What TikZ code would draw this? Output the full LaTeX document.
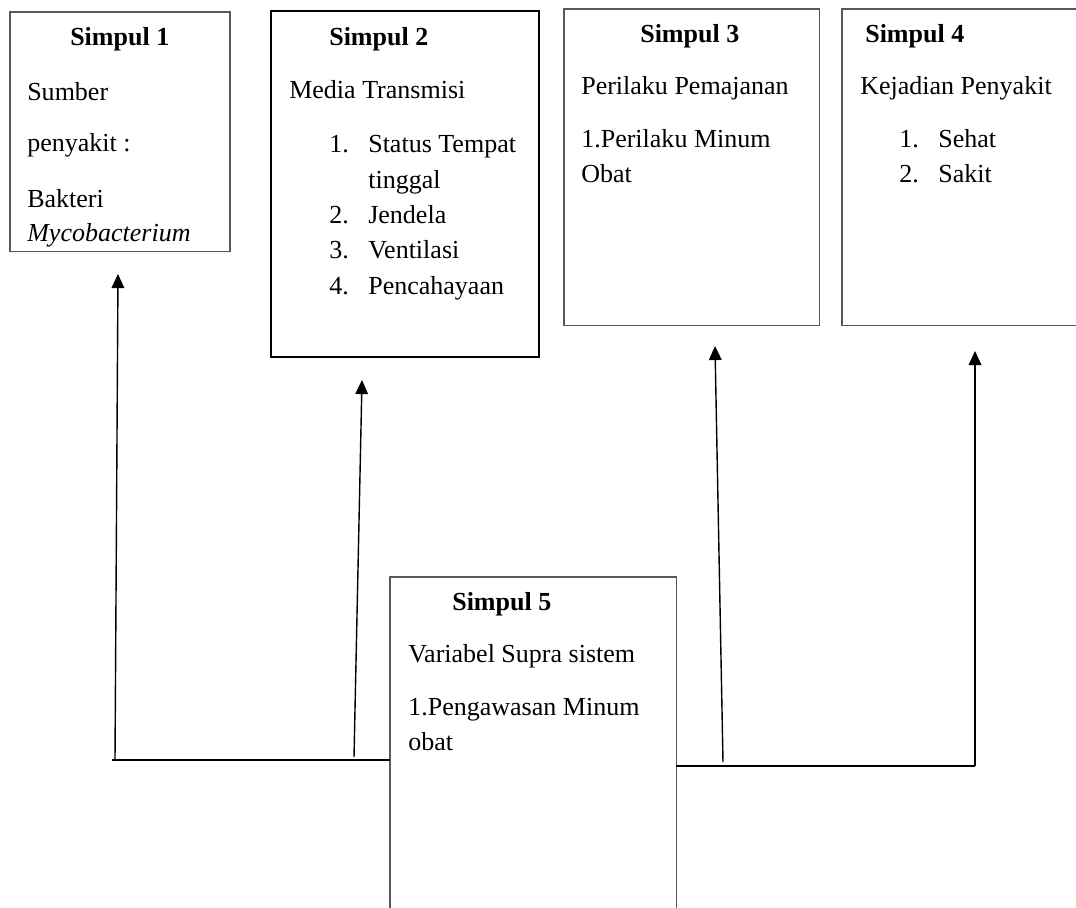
\documentclass[tikz,border=0pt]{standalone}
\usepackage{fontspec}
\setmainfont{Liberation Serif}
\usetikzlibrary{arrows.meta,positioning}

\begin{document}
\begin{tikzpicture}[
    x=0.025cm, y=-0.025cm,
    box/.style={rectangle,draw=black!65,line width=0.8pt,anchor=north west,inner sep=0pt,outer sep=0pt},
    thick box/.style={box,draw=black,line width=1.6pt},
    head/.style={anchor=base west,inner sep=0pt,font=\fontsize{18.5}{22}\selectfont\bfseries},
    item/.style={anchor=base west,inner sep=0pt,font=\fontsize{18.5}{22}\selectfont},
    link/.style={line width=1pt},
    arrow/.style={link,-{Triangle[width=9pt,length=10pt]}}
]
\useasboundingbox (0,0) rectangle (1076,907);

% Boxes
\node[box, minimum width=5.5cm, minimum height=5.975cm] (simpul1) at (10,12) {};
\node[thick box, minimum width=6.7cm, minimum height=8.65cm] (simpul2) at (271,11) {};
\node[box, minimum width=6.375cm, minimum height=7.9cm] (simpul3) at (564,9) {};
\node[box, minimum width=6.2cm, minimum height=7.9cm] (simpul4) at (842,9) {};
\node[box, minimum width=7.15cm, minimum height=8.825cm] (simpul5) at (390,577) {};

% Simpul 1
\node[head] (h1) at (70,46) {Simpul 1};
\node[item] (sumber) at (27,100) {Sumber};
\node[item] (penyakit) at (27,151) {penyakit :};
\node[item] (bakteri) at (27,207) {Bakteri};
\node[item] (myco) at (27,241) {\itshape Mycobacterium};

% Simpul 2
\node[head] (h2) at (329,46) {Simpul 2};
\node[item] (media) at (289,98) {Media Transmisi};
\node[item] (n21) at (329,152) {1.};
\node[item] (status) at (368,152) {Status Tempat};
\node[item] (tinggal) at (368,188) {tinggal};
\node[item] (n22) at (329,223) {2.};
\node[item] (jendela) at (368,223) {Jendela};
\node[item] (n23) at (329,258) {3.};
\node[item] (ventilasi) at (368,258) {Ventilasi};
\node[item] (n24) at (329,294) {4.};
\node[item] (cahaya) at (368,294) {Pencahayaan};

% Simpul 3
\node[head] (h3) at (640,43) {Simpul 3};
\node[item] (pemajanan) at (581,94) {Perilaku Pemajanan};
\node[item] (minum) at (581,147) {1.Perilaku Minum};
\node[item] (obat) at (581,182) {Obat};

% Simpul 4
\node[head] (h4) at (865,43) {Simpul 4};
\node[item] (kejadian) at (860,94) {Kejadian Penyakit};
\node[item] (n41) at (899,147) {1.};
\node[item] (sehat) at (938,147) {Sehat};
\node[item] (n42) at (899,182) {2.};
\node[item] (sakit) at (938,182) {Sakit};

% Simpul 5
\node[head] (h5) at (452,610) {Simpul 5};
\node[item] (supra) at (408,662) {Variabel Supra sistem};
\node[item] (awas) at (408,715) {1.Pengawasan Minum};
\node[item] (obat5) at (408,750) {obat};

% Junctions
\coordinate (hl) at (112,760);
\coordinate (hr) at (975,766);
\coordinate (j1) at (115,760);
\coordinate (j2) at (354,757);
\coordinate (j3) at (723,762);
\coordinate (t1) at (118,274);
\coordinate (t2) at (362,380);
\coordinate (t3) at (715,346);
\coordinate (t4) at (975,351);

% Lines
\draw[link] (hl) -- (hl -| simpul5.west);
\draw[link] (simpul5.east |- hr) -- (hr);
\draw[arrow] (j1) -- (t1);
\draw[arrow] (j2) -- (t2);
\draw[arrow] (j3) -- (t3);
\draw[arrow] (hr) -- (t4);

\end{tikzpicture}
\end{document}
